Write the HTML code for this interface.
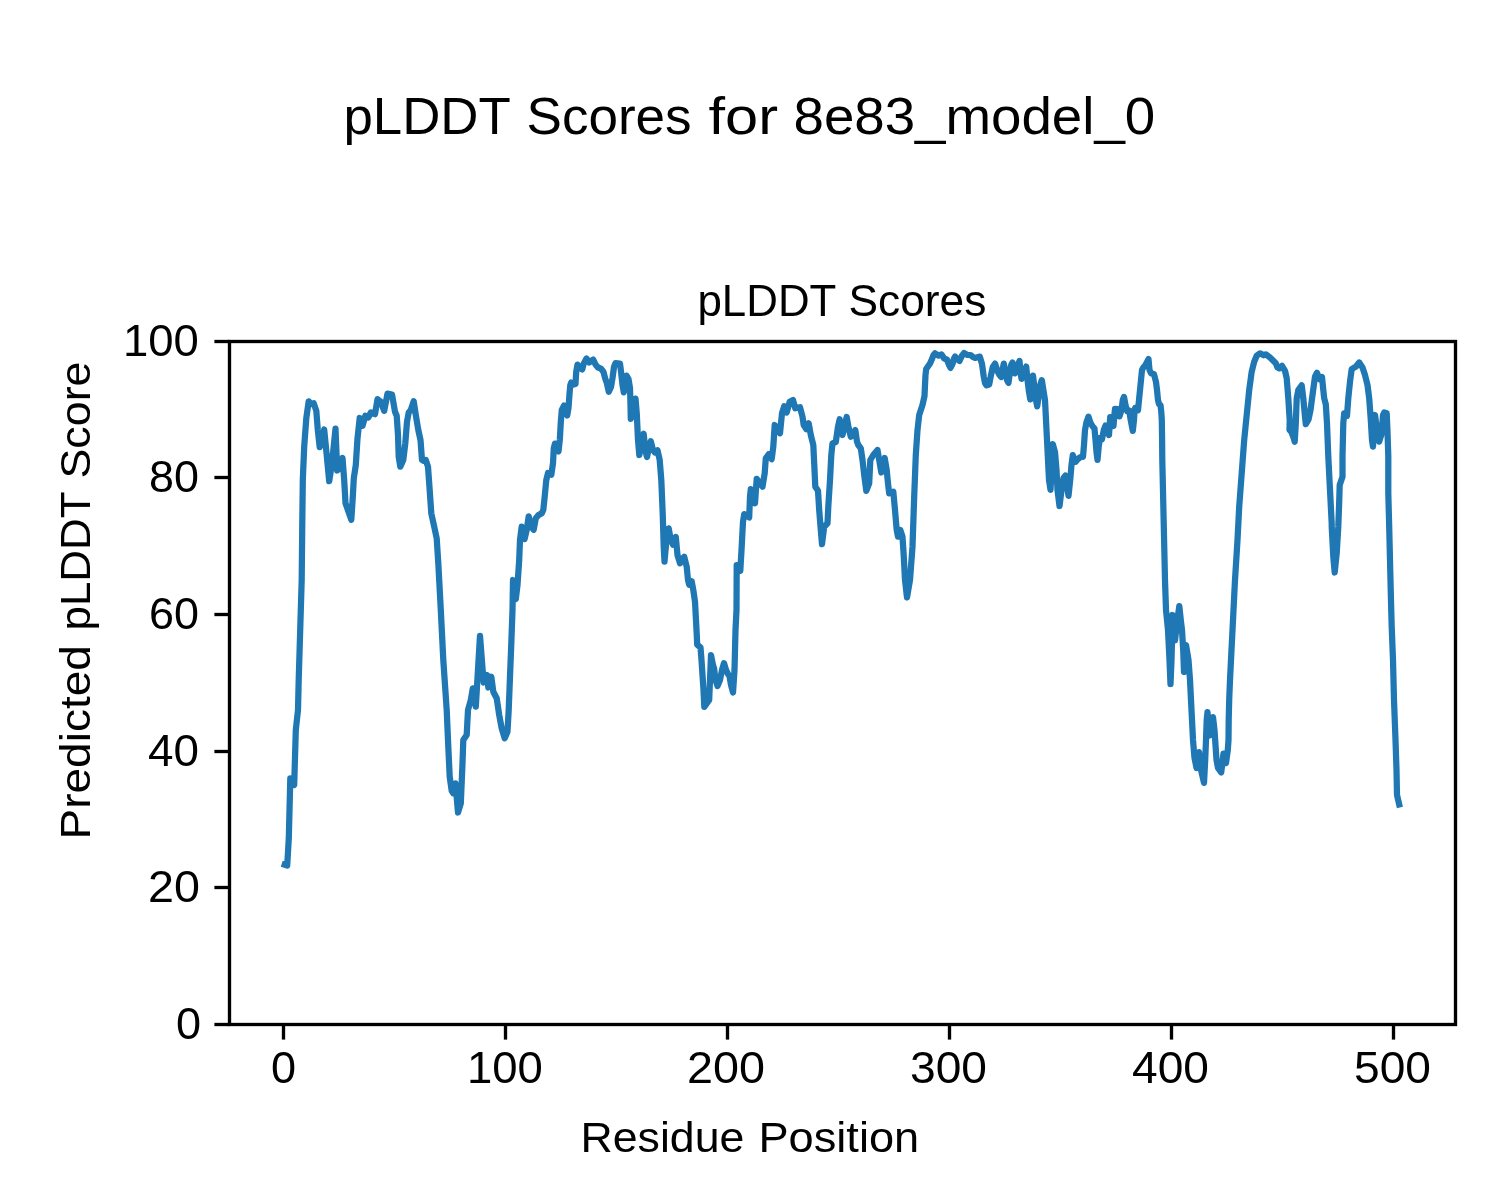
<!DOCTYPE html>
<html lang="en">
<head>
<meta charset="utf-8">
<title>pLDDT Scores for 8e83_model_0</title>
<style>
html,body{margin:0;padding:0;background:#ffffff;}
body{width:1500px;height:1200px;overflow:hidden;}
svg{display:block;}
text{font-family:"Liberation Sans",sans-serif;fill:#000000;}
.tick{stroke:#000000;stroke-width:3.333;stroke-linecap:butt;}
</style>
</head>
<body>
<svg width="1500" height="1200" viewBox="0 0 1500 1200" role="img" aria-label="pLDDT Scores for 8e83_model_0">
<defs><clipPath id="ax"><rect x="229.5" y="341.5" width="1226" height="683"/></clipPath></defs>
<rect x="0" y="0" width="1500" height="1200" fill="#ffffff"/>
<g opacity="0.999">
<!-- figure title -->
<text y="134.00" font-size="52.00"><tspan x="343.50" textLength="166.32" lengthAdjust="spacingAndGlyphs">pLDDT</tspan> <tspan x="526.50" textLength="165.16" lengthAdjust="spacingAndGlyphs">Scores</tspan> <tspan x="708.50" textLength="69.49" lengthAdjust="spacingAndGlyphs">for</tspan> <tspan x="793.50" textLength="361.74" lengthAdjust="spacingAndGlyphs">8e83_model_0</tspan></text>
<!-- axes title -->
<text y="316.00" font-size="44.00"><tspan x="697.50" textLength="138.00" lengthAdjust="spacingAndGlyphs">pLDDT</tspan> <tspan x="848.50" textLength="137.85" lengthAdjust="spacingAndGlyphs">Scores</tspan></text>
<!-- tick labels -->
<text y="1083.00" font-size="44.20"><tspan x="271.00" textLength="25.08" lengthAdjust="spacingAndGlyphs">0</tspan></text>
<text y="1083.00" font-size="44.20"><tspan x="467.00" textLength="75.93" lengthAdjust="spacingAndGlyphs">100</tspan></text>
<text y="1083.00" font-size="44.20"><tspan x="687.00" textLength="77.95" lengthAdjust="spacingAndGlyphs">200</tspan></text>
<text y="1083.00" font-size="44.20"><tspan x="910.00" textLength="76.95" lengthAdjust="spacingAndGlyphs">300</tspan></text>
<text y="1083.00" font-size="44.20"><tspan x="1132.00" textLength="77.00" lengthAdjust="spacingAndGlyphs">400</tspan></text>
<text y="1083.00" font-size="44.20"><tspan x="1354.00" textLength="76.95" lengthAdjust="spacingAndGlyphs">500</tspan></text>
<text y="1039.00" font-size="44.20"><tspan x="176.00" textLength="25.08" lengthAdjust="spacingAndGlyphs">0</tspan></text>
<text y="902.00" font-size="44.20"><tspan x="148.00" textLength="51.95" lengthAdjust="spacingAndGlyphs">20</tspan></text>
<text y="766.00" font-size="44.20"><tspan x="148.00" textLength="50.96" lengthAdjust="spacingAndGlyphs">40</tspan></text>
<text y="629.00" font-size="44.20"><tspan x="149.00" textLength="49.98" lengthAdjust="spacingAndGlyphs">60</tspan></text>
<text y="492.00" font-size="44.20"><tspan x="149.00" textLength="49.98" lengthAdjust="spacingAndGlyphs">80</tspan></text>
<text y="356.00" font-size="44.20"><tspan x="123.00" textLength="75.93" lengthAdjust="spacingAndGlyphs">100</tspan></text>
<!-- axis labels -->
<text y="1152.00" font-size="43.20"><tspan x="580.50" textLength="163.86" lengthAdjust="spacingAndGlyphs">Residue</tspan> <tspan x="758.50" textLength="160.68" lengthAdjust="spacingAndGlyphs">Position</tspan></text>
<text transform="translate(90.00,840.00) rotate(-90)" font-size="43.20"><tspan x="0.50" textLength="194.37" lengthAdjust="spacingAndGlyphs">Predicted</tspan> <tspan x="209.50" textLength="138.33" lengthAdjust="spacingAndGlyphs">pLDDT</tspan> <tspan x="361.50" textLength="116.94" lengthAdjust="spacingAndGlyphs">Score</tspan></text>
</g>
<!-- data line -->
<polyline clip-path="url(#ax)" fill="none" stroke="#1f77b4" stroke-width="6.25" stroke-linejoin="round" stroke-linecap="square" points="
284.7,864.7 287.2,865.5 288.8,838.3 290.3,778.3 294.2,785.0 295.8,730.0 298.0,710.0 298.7,680.0 301.7,580.0 302.2,530.0
302.8,480.0 304.2,446.7 306.3,418.3 308.7,401.3 311.2,404.2 313.7,403.3 316.3,410.8 317.8,430.0 319.7,447.2 324.2,429.5
326.7,455.0 329.2,481.2 332.0,463.3 335.5,428.7 337.2,470.5 339.7,466.7 342.5,458.0 344.2,480.0 345.5,503.3 351.3,519.7
352.8,496.7 353.8,478.3 355.8,465.0 357.5,438.3 359.7,418.0 362.5,425.8 365.3,415.8 368.3,417.5 370.8,412.5 375.0,414.2
377.5,399.2 380.8,401.7 384.2,410.8 387.5,393.7 392.0,394.5 395.0,411.7 396.7,415.8 398.0,435.0 398.7,456.7 400.3,466.7
403.3,460.0 405.3,443.3 407.0,421.7 408.7,412.5 410.8,410.0 413.7,401.3 415.8,415.0 418.3,430.0 420.5,440.0 422.0,460.0
423.7,460.8 425.8,460.0 428.0,466.7 429.2,483.3 431.3,513.3 434.2,526.7 436.7,538.3 438.3,563.3 439.2,580.0 440.8,610.0
443.3,660.0 446.7,710.0 448.3,746.7 449.7,776.7 451.7,790.8 453.3,793.3 455.5,783.3 458.0,812.5 460.8,803.3 462.5,763.3
463.3,740.0 466.7,735.0 468.0,710.0 470.8,700.0 472.8,688.3 475.8,706.7 480.0,635.8 482.5,668.3 483.7,682.5 487.0,675.0
488.3,687.5 491.3,676.7 493.3,691.7 496.7,698.3 499.2,715.0 501.7,728.3 504.7,738.3 507.5,731.7 508.7,710.0 510.0,676.7
511.3,643.3 512.5,610.0 513.0,580.0 515.8,599.2 517.5,585.0 519.2,560.0 520.0,540.0 521.7,526.7 524.5,539.2 526.7,530.0
528.7,516.3 531.3,526.7 533.7,529.7 535.8,518.3 538.3,515.3 541.7,513.3 543.3,510.0 544.7,496.7 546.3,480.0 548.0,473.0
551.3,474.7 553.0,463.3 553.8,448.0 555.0,443.6 556.8,449.0 558.5,451.4 559.8,440.0 560.8,422.0 561.8,410.0 564.0,405.6
565.8,413.0 567.2,415.4 568.5,408.0 569.5,394.0 570.3,385.0 571.2,382.6 573.5,384.5 575.5,384.0 576.2,372.0 577.5,364.6
580.0,368.0 582.2,369.4 583.8,363.5 586.5,358.6 589.2,362.5 591.0,361.0 593.2,359.6 595.5,364.5 598.0,367.5 601.0,368.7
603.5,372.0 605.2,378.5 606.8,383.0 608.8,391.8 611.0,387.0 612.5,378.0 614.0,367.0 615.5,363.2 620.0,363.6 621.2,373.0
622.5,385.0 623.8,392.4 625.2,382.0 626.5,375.6 628.5,379.0 630.0,388.0 630.5,405.0 630.8,418.9 633.0,408.0 635.5,398.6
636.8,414.0 638.0,440.0 639.3,455.0 641.7,443.3 643.7,433.7 645.3,450.0 647.0,457.0 649.2,446.7 650.8,441.2 653.0,450.0
655.0,452.5 657.5,450.3 659.7,460.0 661.3,480.0 662.7,513.3 663.7,546.7 664.5,561.7 666.3,541.7 668.7,528.3 670.8,540.0
673.0,544.7 675.8,537.0 677.5,555.0 680.0,563.3 684.2,556.7 686.7,566.7 688.0,580.0 689.2,584.7 691.7,581.2 693.3,590.0
695.0,601.7 695.8,616.7 696.7,633.3 697.2,644.7 700.5,647.5 701.5,660.0 702.5,675.0 703.5,690.0 704.3,706.9 709.2,700.0
710.0,680.0 711.0,655.1 713.0,665.0 714.2,669.0 715.5,680.0 717.5,686.0 720.0,680.0 722.0,670.0 724.0,663.2 726.0,670.0
728.0,674.0 729.5,676.2 731.0,685.0 733.0,692.5 734.5,670.0 735.0,650.0 735.5,630.0 736.5,610.0 736.7,565.0 740.3,570.8
741.7,546.7 743.0,521.7 744.2,514.2 749.2,517.5 750.0,496.7 750.8,489.2 755.0,503.3 756.7,478.8 762.5,486.7 764.7,473.3
765.8,458.3 768.7,454.2 771.7,459.2 773.3,446.7 774.7,425.0 780.0,433.3 782.0,413.3 784.2,406.3 786.7,412.5 789.7,401.7
793.0,400.0 795.3,408.3 800.0,407.2 802.5,416.7 803.7,425.0 806.3,429.2 808.7,423.3 810.8,435.0 813.3,445.0 814.2,463.3
815.3,486.7 818.0,490.8 819.2,510.0 820.8,530.0 822.0,544.2 824.2,526.7 827.5,523.3 828.3,506.7 830.0,480.0 831.3,455.0
832.5,443.3 835.8,442.0 838.0,426.7 839.7,419.2 842.5,435.0 846.7,417.0 848.7,428.3 850.8,436.7 855.3,430.0 857.0,441.7
858.3,445.0 860.8,448.3 862.5,460.0 864.2,475.0 866.3,490.8 869.2,483.3 870.3,460.0 873.3,455.0 877.5,450.0 879.2,460.0
881.3,472.5 884.7,458.0 886.7,470.0 888.0,483.3 889.2,493.3 893.3,491.7 895.0,510.0 896.7,530.0 898.0,536.7 900.3,530.0
902.5,536.7 903.7,555.0 905.0,580.0 907.0,597.5 910.0,580.0 912.5,546.7 914.2,496.7 915.8,455.0 917.5,430.0 919.2,415.0
922.5,405.0 924.5,396.0 925.0,385.0 925.5,375.0 926.2,369.0 930.0,363.5 932.0,359.0 933.5,355.0 935.0,353.3 938.5,355.6
941.5,354.4 944.0,358.3 947.0,359.6 949.0,365.0 950.5,367.9 952.5,364.0 954.0,358.5 955.0,356.6 957.5,359.5 959.5,360.9
961.8,356.0 964.0,353.1 967.5,355.0 970.5,355.1 973.0,357.0 975.0,357.9 977.5,357.2 979.8,356.6 982.0,364.0 983.8,377.0
985.0,383.0 986.5,385.4 989.2,384.5 990.8,376.0 992.8,367.0 995.0,363.6 997.5,371.0 999.5,375.0 1001.2,377.0 1002.5,370.0
1003.8,363.6 1005.5,372.0 1007.0,380.0 1008.5,382.9 1010.0,372.0 1011.2,365.0 1012.5,362.6 1013.8,369.0 1015.0,373.4 1017.0,367.0
1019.5,360.9 1020.5,372.0 1021.5,378.9 1024.0,372.0 1026.2,366.6 1027.5,380.0 1029.0,392.0 1030.3,399.4 1031.5,387.0 1033.0,375.6
1034.5,388.0 1036.0,400.0 1037.2,406.4 1039.0,394.0 1040.5,384.0 1041.8,380.1 1045.0,400.0 1046.0,420.0 1047.0,440.0 1048.0,460.0
1049.0,480.0 1050.5,489.9 1051.5,470.0 1052.8,444.1 1055.0,452.0 1056.5,470.0 1057.5,490.0 1059.5,506.0 1061.5,490.0 1063.5,478.0
1065.5,475.6 1067.0,486.0 1068.5,495.9 1070.2,480.0 1071.5,465.0 1072.8,455.1 1075.5,461.8 1078.0,459.0 1080.5,457.0 1083.0,456.8
1084.0,445.0 1085.0,430.0 1086.5,422.0 1088.5,416.6 1090.5,423.0 1092.5,426.2 1094.5,428.5 1095.5,440.0 1096.5,452.0 1097.5,459.9
1098.8,446.0 1099.8,438.2 1102.0,439.2 1103.8,430.0 1105.5,425.6 1107.5,432.0 1109.0,435.0 1109.8,423.0 1110.2,417.1 1112.0,423.0
1113.5,426.0 1114.3,416.0 1115.0,408.9 1118.0,409.0 1119.5,416.4 1121.5,410.0 1122.8,400.0 1124.0,396.9 1125.5,405.0 1127.2,411.3
1129.3,410.6 1130.7,420.0 1132.8,430.9 1134.0,420.0 1134.6,410.0 1135.2,408.0 1138.0,410.2 1139.0,400.0 1140.5,385.0 1142.0,370.0
1143.2,367.8 1145.5,365.0 1148.5,359.1 1149.5,370.0 1151.0,373.2 1154.0,374.3 1156.0,382.0 1157.0,390.0 1158.0,400.0 1159.0,404.0
1160.5,405.2 1161.3,412.0 1161.8,420.0 1162.1,440.0 1162.3,460.0 1165.0,580.0 1166.0,610.0 1168.0,630.0 1169.5,660.0 1170.5,684.0
1171.5,660.0 1172.0,640.0 1172.5,615.0 1173.8,628.0 1175.0,640.5 1177.0,623.0 1179.3,606.2 1180.8,620.0 1182.0,630.0 1183.2,650.0
1184.0,672.0 1185.0,658.0 1186.0,645.0 1187.2,652.0 1188.5,660.0 1190.0,680.0 1190.5,690.0 1191.0,700.0 1191.0,700.0 1192.0,720.0
1193.0,740.0 1194.5,758.0 1196.5,768.0 1199.0,752.1 1201.5,772.0 1204.0,782.9 1205.2,760.0 1206.0,740.0 1206.7,720.0 1207.5,712.1
1209.7,735.5 1213.0,717.1 1214.5,730.0 1215.5,745.0 1216.5,760.0 1218.0,768.0 1221.2,772.4 1222.5,762.0 1223.5,753.6 1224.8,760.0
1226.0,763.0 1227.8,750.0 1228.5,740.0 1228.7,720.0 1229.2,700.0 1230.0,680.0 1232.0,640.0 1233.5,610.0 1235.0,580.0 1237.5,540.0
1239.2,506.7 1241.7,473.3 1244.2,440.0 1246.7,415.0 1249.2,390.0 1251.7,371.7 1254.2,361.7 1256.7,355.8 1260.0,353.3 1263.7,355.3
1265.8,354.3 1270.0,357.5 1273.3,360.8 1275.8,363.3 1277.5,367.5 1279.2,368.3 1282.0,365.8 1285.0,370.8 1286.7,378.3 1288.3,398.3
1289.7,420.0 1289.5,430.0 1291.5,432.2 1293.8,438.5 1294.7,441.8 1295.8,423.3 1296.7,398.3 1298.3,390.0 1301.7,385.3 1303.3,398.3
1305.0,416.7 1305.8,424.2 1308.5,419.5 1310.5,410.0 1312.5,395.0 1315.0,376.7 1317.0,372.8 1319.5,379.2 1322.0,377.0 1323.3,390.0
1324.2,398.3 1325.8,404.2 1327.0,423.3 1328.3,456.7 1330.0,490.0 1331.7,523.3 1331.7,526.7 1333.3,556.7 1334.7,572.5 1336.7,553.3
1338.3,526.7 1339.2,501.7 1339.7,485.0 1342.5,476.7 1342.5,456.7 1343.3,423.3 1344.2,413.3 1347.0,415.8 1348.3,398.3 1350.0,381.7
1351.7,369.2 1355.8,366.7 1359.2,362.5 1362.5,367.5 1365.0,375.0 1367.5,385.0 1369.2,398.3 1370.8,420.0 1372.0,440.0 1373.0,446.7
1374.2,423.3 1375.0,415.0 1377.5,433.3 1379.2,441.7 1381.7,433.3 1383.0,415.0 1384.2,412.5 1386.7,413.3 1387.5,431.7 1388.3,456.7
1388.3,493.3 1389.2,526.7 1390.0,560.0 1390.8,593.3 1391.7,626.7 1393.0,660.0 1394.0,700.0 1395.5,740.0 1396.5,770.0 1397.0,795.0
1399.2,804.5
"/>
<!-- ticks -->
<line class="tick" x1="283.5" y1="1024.5" x2="283.5" y2="1039.6"/>
<line class="tick" x1="505.5" y1="1024.5" x2="505.5" y2="1039.6"/>
<line class="tick" x1="727.5" y1="1024.5" x2="727.5" y2="1039.6"/>
<line class="tick" x1="949.5" y1="1024.5" x2="949.5" y2="1039.6"/>
<line class="tick" x1="1171.5" y1="1024.5" x2="1171.5" y2="1039.6"/>
<line class="tick" x1="1393.5" y1="1024.5" x2="1393.5" y2="1039.6"/>
<line class="tick" x1="229.5" y1="1024.5" x2="214.4" y2="1024.5"/>
<line class="tick" x1="229.5" y1="887.5" x2="214.4" y2="887.5"/>
<line class="tick" x1="229.5" y1="751.5" x2="214.4" y2="751.5"/>
<line class="tick" x1="229.5" y1="614.5" x2="214.4" y2="614.5"/>
<line class="tick" x1="229.5" y1="477.5" x2="214.4" y2="477.5"/>
<line class="tick" x1="229.5" y1="341.5" x2="214.4" y2="341.5"/>
<!-- spines -->
<rect x="229.5" y="341.5" width="1226" height="683" fill="none" stroke="#000000" stroke-width="3.333" stroke-linejoin="miter"/>
</svg>
</body>
</html>
